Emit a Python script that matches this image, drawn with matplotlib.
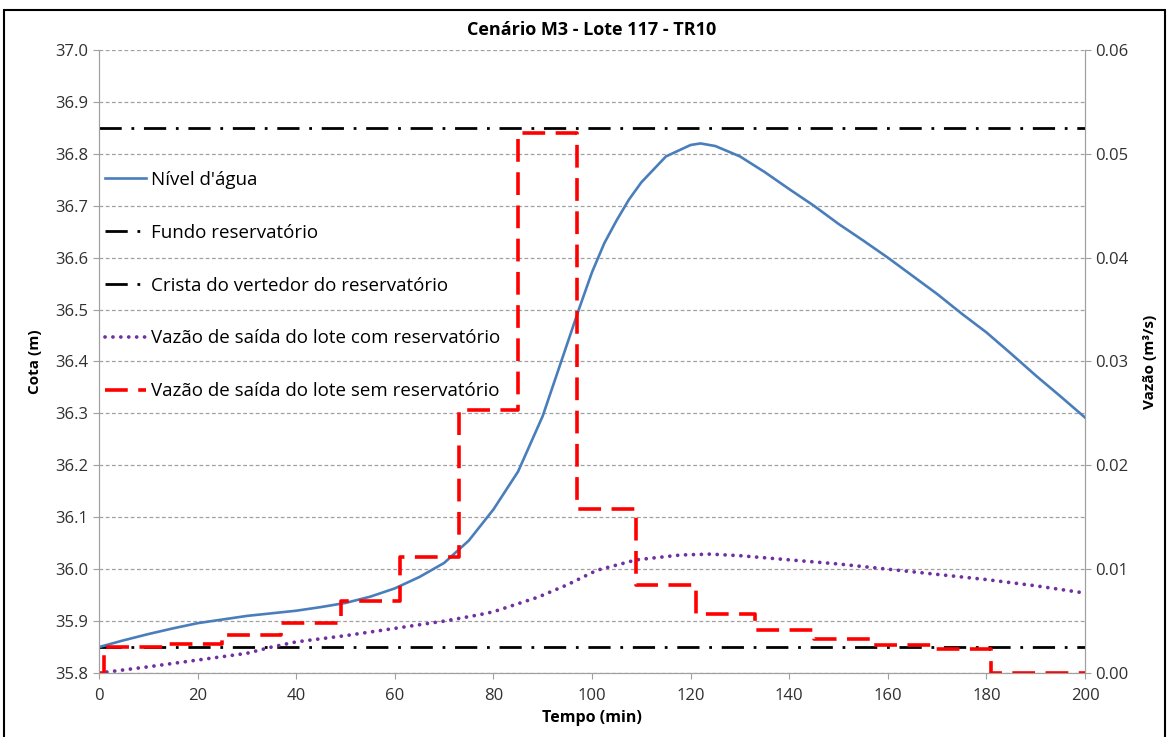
import numpy as np
import matplotlib.pyplot as plt
from matplotlib.patches import Rectangle
from matplotlib.ticker import MultipleLocator, FormatStrFormatter

plt.rcParams['font.family'] = ['Open Sans', 'DejaVu Sans']

# Nível d'água (m)
t_nivel = [0, 5, 10, 15, 20, 25, 30, 35, 40, 45, 50, 55, 60, 65, 70, 75, 80, 85, 90,
           95, 97.5, 100, 102.5, 105, 107.5, 110, 115, 120, 122, 125, 130, 135, 140, 145,
           150, 155, 160, 165, 170, 175, 180, 185, 190, 195, 200]
nivel = [35.850, 35.863, 35.875, 35.886, 35.896, 35.903, 35.910, 35.915, 35.920, 35.927,
         35.935, 35.947, 35.963, 35.985, 36.012, 36.055, 36.115, 36.188, 36.295,
         36.435, 36.505, 36.572, 36.628, 36.672, 36.712, 36.745, 36.795, 36.817, 36.820,
         36.815, 36.795, 36.765, 36.732, 36.700, 36.665, 36.633, 36.600, 36.565, 36.530,
         36.492, 36.456, 36.415, 36.373, 36.333, 36.292]

# níveis de referência (m)
fundo = 35.85
crista = 36.85

# Vazão de saída com reservatório (m³/s)
t_com = [0, 10, 20, 30, 35, 40, 50, 60, 70, 77, 80, 89, 95, 101, 109, 118, 124,
         130, 140, 150, 160, 170, 180, 190, 200]
vazao_com = [0.0, 0.0006, 0.00125, 0.0019, 0.0025, 0.0030, 0.0036, 0.0043, 0.0050, 0.0056,
             0.0059, 0.0073, 0.0085, 0.0099, 0.0109, 0.01137, 0.01145, 0.0113, 0.0109,
             0.0105, 0.0100, 0.0095, 0.0090, 0.0084, 0.0077]

# Vazão de saída sem reservatório (m³/s), degraus de 12 min
t_sem = [0, 1, 13, 25, 37, 49, 61, 73, 85, 97, 109, 121, 133, 145, 157, 169, 181, 200]
vazao_sem = [0.0, 0.0025, 0.0028, 0.0037, 0.0048, 0.0069, 0.0112, 0.0253, 0.052, 0.0158,
             0.0085, 0.0057, 0.0041, 0.0033, 0.0027, 0.0023, 0.0, 0.0]

fig = plt.figure(figsize=(11.7, 7.37), dpi=100)
ax = fig.add_axes([0.0846, 0.0868, 0.8428, 0.8454])
ax2 = ax.twinx()

l1, = ax.plot(t_nivel, nivel, color='#4A7EBB', lw=1.9, label="Nível d'água", zorder=5)
l2 = ax.axhline(fundo, color='black', lw=2, dashes=(8, 3.5, 1, 3.5),
                label='Fundo reservatório', zorder=4)
l3 = ax.axhline(crista, color='black', lw=2, dashes=(8, 3.5, 1, 3.5),
                label='Crista do vertedor do reservatório', zorder=4)
l4, = ax2.plot(t_com, vazao_com, color='#7030A0', lw=2.7, linestyle=(0, (0.01, 2.1)),
               dash_capstyle='round', solid_capstyle='round',
               label='Vazão de saída do lote com reservatório')
l5, = ax2.plot(t_sem, vazao_sem, color='#FF0000', lw=2.6, drawstyle='steps-post',
               dashes=(6.3, 2.9), label='Vazão de saída do lote sem reservatório')

ax.set_xlim(0, 200)
ax.set_ylim(35.8, 37.0)
ax2.set_ylim(0, 0.06)
ax.xaxis.set_major_locator(MultipleLocator(20))
ax.yaxis.set_major_locator(MultipleLocator(0.1))
ax.yaxis.set_major_formatter(FormatStrFormatter('%.1f'))
ax2.yaxis.set_major_locator(MultipleLocator(0.01))
ax2.yaxis.set_major_formatter(FormatStrFormatter('%.2f'))

ax.grid(axis='y', color='#a0a0a0', linestyle=(0, (3, 2)), lw=0.9)
ax.set_axisbelow(True)

for a in (ax, ax2):
    for s in a.spines.values():
        s.set_color('#a0a0a0')
    a.spines['top'].set_visible(False)
    a.tick_params(colors='#a0a0a0', labelcolor='#303030', labelsize=12, length=4)
ax.tick_params(axis='x', pad=7)

ax.set_title('Cenário M3 - Lote 117 - TR10', fontsize=13, fontweight='bold', pad=11)
ax.set_xlabel('Tempo (min)', fontsize=11.5, fontweight='bold', labelpad=4)
ax.set_ylabel('Cota (m)', fontsize=11, fontweight='bold', labelpad=10)
ax2.set_ylabel('Vazão (m³/s)', fontsize=11, fontweight='bold', labelpad=10)

ax.legend(handles=[l1, l2, l3, l4, l5], loc='upper left', bbox_to_anchor=(0.0, 0.815),
          frameon=False, fontsize=13.5, labelspacing=1.86, handlelength=2.2,
          handletextpad=0.3, borderpad=0.1, borderaxespad=0.2)

fig.patches.append(Rectangle((0.003, -0.02), 0.993, 1.006, transform=fig.transFigure,
                             fill=False, edgecolor='black', lw=1.5))

fig.savefig('out.png', dpi=100)
